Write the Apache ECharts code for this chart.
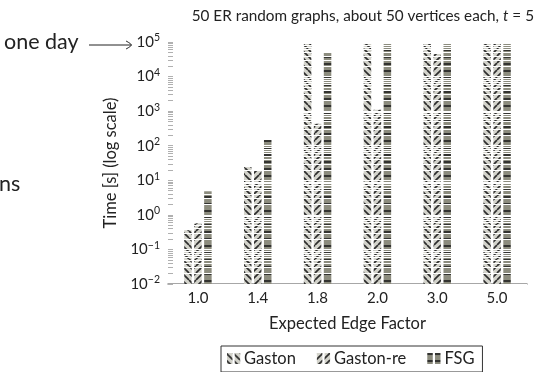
<!DOCTYPE html>
<html><head><meta charset="utf-8">
<script src="https://cdn.jsdelivr.net/npm/echarts@6/dist/echarts.min.js"></script>
<style>html,body{margin:0;padding:0;background:#fff}#c{width:541px;height:372px}</style>
</head><body><div id="c"></div>
<script>
const categories = ['1.0', '1.4', '1.8', '2.0', '3.0', '5.0'];
const gaston   = [0.35, 24, 100000, 100000, 100000, 100000];
const gastonRe = [0.56, 19, 430, 1100, 45000, 100000];
const fsg      = [4.8, 147, 48000, 100000, 100000, 100000];
const yMin = 0.01, yMax = 100000;

const FONT = 'Lato';
const minorTicks = [];
for (let e = -2; e <= 4; e++) for (let k = 1; k <= 9; k++) minorTicks.push(+(k * Math.pow(10, e)).toPrecision(3));
minorTicks.push(yMax);

function sup(v) {
  const e = Math.round(Math.log10(v));
  return '{b|10}{s|' + (e < 0 ? '\u2212' + (-e) : e) + '}';
}
// pattern tiles (styling only)
function tile(kind) {
  const s = 7;
  const c = document.createElement('canvas');
  c.width = s; c.height = s;
  const g = c.getContext('2d');
  g.fillStyle = kind === 'h' ? '#8c8c7e' : '#d3d3cb';
  g.fillRect(0, 0, s, s);
  g.strokeStyle = '#2e2e2e';
  if (kind === 'h') {
    g.fillStyle = '#333330';
    g.fillRect(0, 0, s, 2);
  } else {
    g.lineWidth = 1.7;
    for (const o of [-s, 0, s]) {
      g.beginPath();
      if (kind === 'b') { g.moveTo(o, 0); g.lineTo(o + s, s); }
      else { g.moveTo(o, s); g.lineTo(o + s, 0); }
      g.stroke();
    }
  }
  return {image: c, repeat: 'repeat'};
}
const icon = 'path://M0,0h5v10h-5z M7,0h5v10h-5z';
const chart = echarts.init(document.getElementById('c'), null, {renderer: 'canvas'});
const baseVals = categories.map(() => yMin);
function baseSeries(stack) {
  return {name: '_base_' + stack, type: 'bar', stack, data: baseVals, barWidth: 7.5, barGap: '33%',
    itemStyle: {color: 'rgba(0,0,0,0)'}, silent: true, legendHoverLink: false};
}
chart.setOption({
  animation: false,
  textStyle: {fontFamily: FONT},
  title: {
    text: '50 ER random graphs, about 50 vertices each, {i|t} = 5',
    right: 2, top: 4,
    textStyle: {fontFamily: FONT, fontSize: 15.3, fontWeight: 'normal', color: '#222',
      rich: {i: {fontFamily: FONT, fontSize: 15.3, fontStyle: 'italic', color: '#222'}}}
  },
  grid: {left: 168, width: 359, top: 42, height: 242, containLabel: false},
  legend: {
    left: 221, top: 346,
    padding: [4, 8, 5, 6], itemGap: 21,
    borderColor: '#333', borderWidth: 1, borderRadius: 0,
    itemWidth: 15, itemHeight: 11,
    textStyle: {fontFamily: FONT, fontSize: 16.5, color: '#222', padding: [0, 0, 0, -2]},
    data: [{name: 'Gaston', icon}, {name: 'Gaston-re', icon}, {name: 'FSG', icon}]
  },
  xAxis: {
    type: 'category', data: categories,
    name: 'Expected Edge Factor', nameLocation: 'middle', nameGap: 31,
    nameTextStyle: {fontFamily: FONT, fontSize: 16.5, color: '#222'},
    axisLine: {lineStyle: {color: '#8a8a8a', width: 1.5}},
    axisTick: {show: false},
    axisLabel: {fontFamily: FONT, fontSize: 15, color: '#222', margin: 7}
  },
  yAxis: {
    type: 'log', logBase: 10, min: yMin, max: yMax, z: 3,
    name: 'Time [s] (log scale)', nameLocation: 'middle', nameGap: 36, nameRotate: 90,
    nameTextStyle: {fontFamily: FONT, fontSize: 16.5, color: '#222'},
    axisLine: {show: false},
    axisTick: {show: true, inside: true, length: 5, customValues: minorTicks,
      lineStyle: {color: '#b0b0b0', width: 1}},
    splitLine: {show: true, lineStyle: {color: '#ffffff', width: 1}},
    axisLabel: {
      margin: 8, formatter: v => sup(v),
      rich: {
        b: {fontFamily: FONT, fontSize: 15, color: '#222'},
        s: {fontFamily: FONT, fontSize: 10.5, color: '#222', verticalAlign: 'top', padding: [0, 0, 8, 0]}
      }
    }
  },
  series: [
    baseSeries('a'), baseSeries('b'), baseSeries('c'),
    {name: 'Gaston', type: 'bar', stack: 'a', data: gaston, barWidth: 7.5, barGap: '33%',
      itemStyle: {color: tile('b')}},
    {name: 'Gaston-re', type: 'bar', stack: 'b', data: gastonRe, barWidth: 7.5, barGap: '33%',
      itemStyle: {color: tile('f')}},
    {name: 'FSG', type: 'bar', stack: 'c', data: fsg, barWidth: 7.5, barGap: '33%',
      itemStyle: {color: tile('h')}}
  ],
  graphic: [
    {type: 'text', left: 4, top: 31, style: {text: 'one day', fontFamily: FONT, fontSize: 21.5, fill: '#222'}},
    {type: 'line', shape: {x1: 89, y1: 45, x2: 131, y2: 45}, style: {stroke: '#222', lineWidth: 1}},
    {type: 'polyline', shape: {points: [[126, 41], [131.5, 45], [126, 49]], smooth: 0.3}, style: {stroke: '#222', lineWidth: 1, fill: null}},
    {type: 'text', left: -1, top: 173, style: {text: 'ns', fontFamily: FONT, fontSize: 21.5, fill: '#222'}}
  ]
});
</script></body></html>
